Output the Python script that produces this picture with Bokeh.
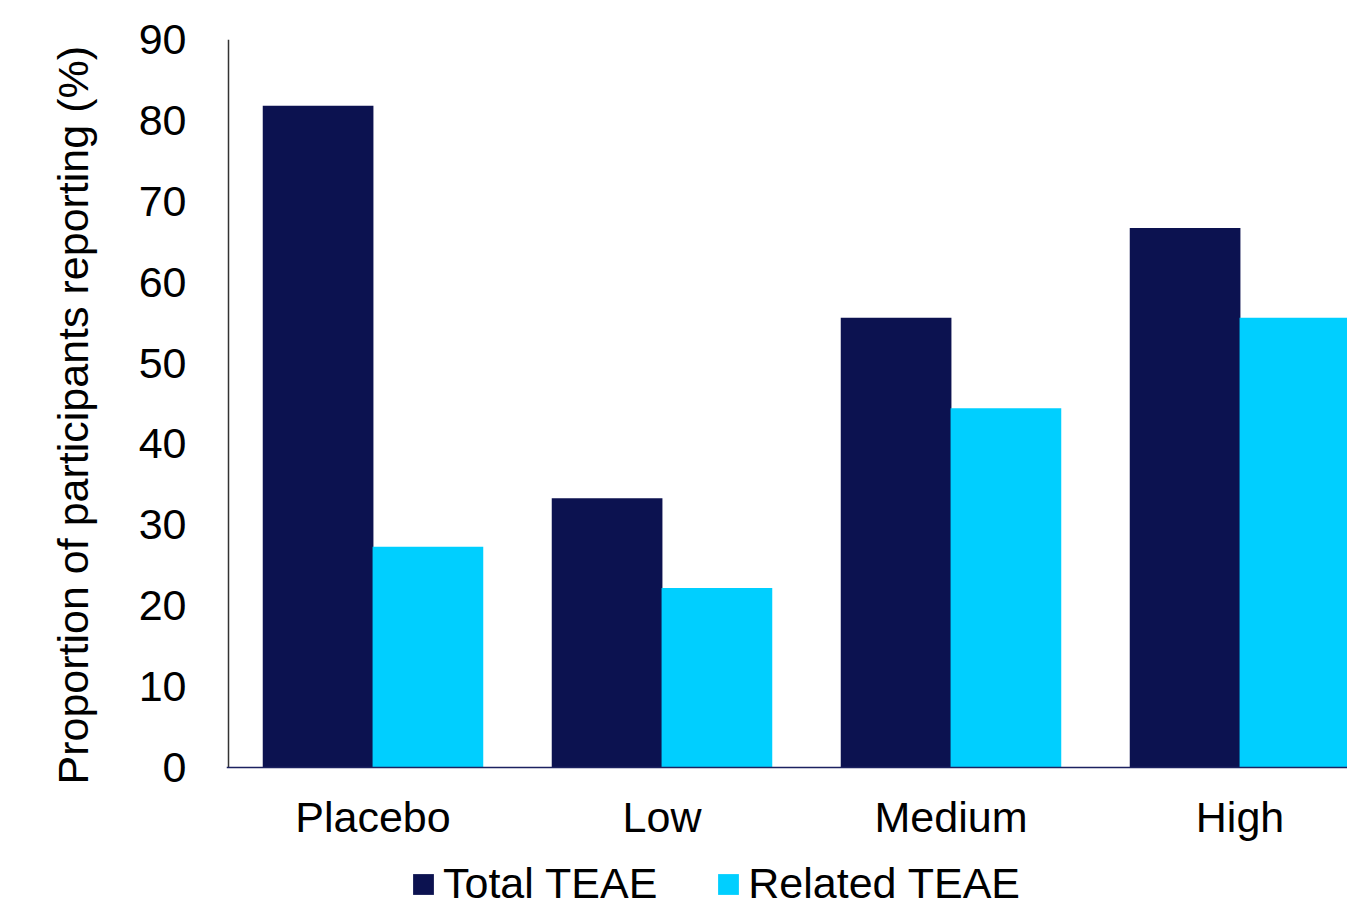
from bokeh.plotting import figure
from bokeh.models import (Range1d, FixedTicker, Legend, LegendItem, ColumnDataSource,
                          Span, Title)
from bokeh.core.properties import value
from bokeh.embed import file_html
from bokeh.resources import INLINE

categories = ["Placebo", "Low", "Medium", "High"]
total_teae = [81.8, 33.3, 55.6, 66.7]
related_teae = [27.3, 22.2, 44.4, 55.6]
y_ticks = [0, 10, 20, 30, 40, 50, 60, 70, 80, 90]

FONT = "Liberation Sans"
FS = "43px"
NAVY = "#0C1250"
CYAN = "#00CFFF"

# layout (pixels)
PX_PER_CAT = 289.0
PLOT_H = 728.0                 # pixels for 0..90
FRAME_H = 871
FRAME_W = 1121
LEFT_PAD = 2                   # pixels left of x=0 inside the frame
px_per_unit = PLOT_H / (y_ticks[-1] - y_ticks[0])
y_start = y_ticks[-1] - FRAME_H / px_per_unit
x_start = -LEFT_PAD / PX_PER_CAT
x_end = x_start + FRAME_W / PX_PER_CAT

centers = [i + 0.5 for i in range(len(categories))]
offset = 0.19
bw = 0.383

src = ColumnDataSource(dict(
    x_total=[c - offset for c in centers],
    x_rel=[c + offset for c in centers],
    total=total_teae,
    related=related_teae,
))

p = figure(frame_width=FRAME_W, frame_height=FRAME_H, output_backend="svg",
           toolbar_location=None,
           x_range=Range1d(x_start, x_end), y_range=Range1d(y_start, y_ticks[-1]),
           min_border_left=226, min_border_right=0, min_border_top=39,
           min_border_bottom=0)
p.outline_line_color = None
p.xgrid.visible = False
p.ygrid.visible = False
p.background_fill_color = "white"
p.border_fill_color = "white"

r1 = p.vbar(x="x_total", top="total", bottom=0, width=bw, source=src,
            fill_color=NAVY, line_color=None)
r2 = p.vbar(x="x_rel", top="related", bottom=0, width=bw, source=src,
            fill_color=CYAN, line_color=None)

# axis lines
p.segment(x0=[0], y0=[y_ticks[0]], x1=[0], y1=[y_ticks[-1]],
          line_color="#333333", line_width=1.5)
p.add_layout(Span(location=0, dimension="width", line_color="#1C2260", line_width=1.5))

# category labels
lab_y = -49 / px_per_unit
p.text(x=centers, y=[lab_y] * len(centers), text=categories,
       text_font=value(FONT), text_font_size=value(FS), text_color="black",
       text_align="center", text_baseline="alphabetic")

p.xaxis.visible = False

p.yaxis.ticker = FixedTicker(ticks=y_ticks)
p.yaxis.major_label_text_font = FONT
p.yaxis.major_label_text_font_size = FS
p.yaxis.major_label_text_color = "black"
p.yaxis.major_label_standoff = 40
p.yaxis.major_tick_out = 0
p.yaxis.major_tick_in = 0
p.yaxis.major_tick_line_color = None
p.yaxis.minor_tick_line_color = None
p.yaxis.axis_line_color = None

ytitle = Title(text="Proportion of participants reporting (%)", align="left",
               offset=126, standoff=78, text_font=FONT, text_font_size=FS,
               text_font_style="normal", text_color="black")
p.add_layout(ytitle, "left")

legend = Legend(items=[LegendItem(label="Total TEAE", renderers=[r1]),
                       LegendItem(label="Related TEAE", renderers=[r2])],
                orientation="horizontal", location=(184, 2))
legend.label_text_font = FONT
legend.label_text_font_size = FS
legend.label_text_color = "black"
legend.glyph_width = 26
legend.glyph_height = 26
legend.label_standoff = 7
legend.spacing = 58
legend.padding = 0
legend.margin = 0
legend.border_line_color = None
legend.background_fill_alpha = 0
p.add_layout(legend, "center")

open("out.html", "w").write(file_html(p, INLINE))
